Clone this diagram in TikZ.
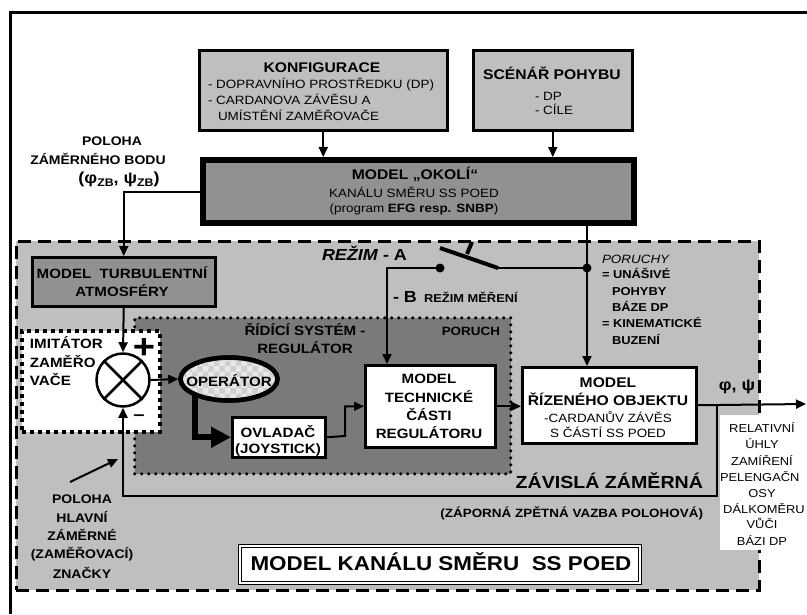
\documentclass[tikz,border=0pt]{standalone}
\usepackage{fontspec}
\setmainfont[FakeStretch=1.12]{Liberation Sans}
\usetikzlibrary{arrows.meta,patterns,shapes.geometric}
\definecolor{lg}{gray}{0.75}
\definecolor{mg}{gray}{0.57}
\definecolor{dg}{gray}{0.48}
\begin{document}
\begin{tikzpicture}[x=1pt,y=-1pt,
 tx/.style={inner sep=0pt, outer sep=0pt, anchor=base},
 tb/.style={tx, font=\fontsize{#1}{#1}\selectfont\bfseries},
 tr/.style={tx, font=\fontsize{#1}{#1}\selectfont},
 ti/.style={tx, font=\fontsize{#1}{#1}\selectfont\itshape},
 box/.style={draw, line width=2.5pt, inner sep=0pt, anchor=north west},
 arr/.style={line width=2pt, -{Triangle[length=10pt,width=9pt]}},
 ln/.style={line width=2pt},
]
\useasboundingbox (0,0) rectangle (807,614);
% outer frame
\draw[line width=3pt] (10.5,614) -- (10.5,12) -- (807,12);
% dashed region
\node[draw, fill=lg, line width=2.5pt, dash pattern=on 13pt off 7pt, anchor=north west,
  minimum width=743pt, minimum height=349pt, inner sep=0pt] (reg) at (15,240) {};
\fill[white] (720,415) rectangle (807,550);
% regulator region
\node[draw, fill=dg, line width=3.5pt, dash pattern=on 0pt off 7pt, line cap=round, anchor=north west,
  minimum width=376pt, minimum height=156pt, inner sep=0pt] (rs) at (133,316) {};
% imitator box
\node[draw, fill=white, line width=4pt, dash pattern=on 4pt off 4pt, anchor=north west,
  minimum width=138pt, minimum height=101pt, inner sep=0pt] (imi) at (20,329) {};
% top boxes
\node[box, fill=lg, minimum width=248pt, minimum height=80pt] (konf) at (198,49) {};
\node[box, fill=lg, minimum width=159pt, minimum height=80pt] (scen) at (472,49) {};
\node[box, fill=mg, line width=6pt, minimum width=431pt, minimum height=63pt] (okoli) at (200,157) {};
\node[box, fill=mg, minimum width=183pt, minimum height=49pt] (turb) at (31,256) {};
% connectors top
\draw[arr] (konf.south) -- (konf.south |- okoli.north);
\draw[arr] (scen.south) -- (scen.south |- okoli.north);
\draw[arr] (okoli.west) -| (turb.north);
% summing junction
\node[circle, draw, line width=2.5pt, fill=white, minimum size=53pt, inner sep=0pt] (sum) at (123,380) {};
\draw[line width=2.5pt] (sum.north west) -- (sum.south east) (sum.north east) -- (sum.south west);
\draw[arr] (turb.south) -- (sum.north);
% inner boxes
\node[box, fill=white, minimum width=93pt, minimum height=40pt] (ovl) at (231,416) {};
\node[box, fill=white, minimum width=130pt, minimum height=82pt] (tech) at (364,364) {};
\node[box, fill=white, minimum width=174pt, minimum height=76pt] (obj) at (521,366) {};
% thick arrow operator -> ovladac
\coordinate (opb) at (195,392);
\draw[line width=6pt, -{Triangle[length=20pt,width=20pt]}] (opb) |- (ovl.west);
% operator
\node[ellipse, draw, line width=4.5pt, fill=gray!18, minimum width=97pt, minimum height=43pt, inner sep=0pt,
  postaction={pattern=checkerboard, pattern color=gray!38}] (oper) at (229,379) {};
\draw[line width=4.5pt] (oper.center) ellipse (48.5pt and 21.5pt);
\draw[arr] (sum.east) -- (oper.west);
\draw[arr] (ovl.east) -- (345,436) |- (tech.west);
\draw[arr] (tech.east) -- (tech.east -| obj.west);
\coordinate (out) at (806,404);
\draw[arr] (obj.east) -- (out);
\coordinate (fb) at (717,404);
\draw[arr] (fb) -- (717,496) -| (sum.south);
% switch
\coordinate (sw) at (587,268);
\coordinate (sa) at (440,268);
\coordinate (sb) at (387,268);
\draw[ln] (okoli.south -| sw) -- (sw);
\draw[arr] (sw) -- (sw |- obj.north);
\draw[ln] (sw) -- (498,268);
\draw[line width=4pt] (440,248) -- (498,268);
\draw[line width=4pt] (467,254) -- (472,242);
\draw[arr] (sa) -- (sb) -- (sb |- tech.north);
\fill (sa) circle (4.5pt);
\fill (sw) circle (4.5pt);
% label arrow
\coordinate (pa) at (70,482);
\coordinate (pb) at (118,459);
\draw[arr] (pa) -- (pb);
% model kanalu box
\node[draw, double, double distance=2pt, line width=1pt, fill=white, anchor=north west,
  minimum width=400pt, minimum height=37pt, inner sep=0pt] (mk) at (239,545) {};
% ---------- texts
\node[tb=14] (t1) at (322,72) {KONFIGURACE};
\node[tr=12, anchor=base west] (t2) at (208,88) {- DOPRAVNÍHO PROSTŘEDKU (DP)};
\node[tr=12, anchor=base west] (t3) at (208,104) {- CARDANOVA ZÁVĚSU A};
\node[tr=12, anchor=base west] (t4) at (218,120) {UMÍSTĚNÍ ZAMĚŘOVAČE};
\node[tb=14] (t5) at (552,79) {SCÉNÁŘ POHYBU};
\node[tr=12, anchor=base west] (t6) at (535,100) {- DP};
\node[tr=12, anchor=base west] (t7) at (535,114) {- CÍLE};
\node[tb=14] (t8) at (415,179) {MODEL „OKOLÍ“};
\node[tr=12] (t9) at (414,197) {KANÁLU SMĚRU SS POED};
\node[tr=12] (t10) at (414,212) {(program \textbf{EFG resp. SNBP})};
\node[tb=12.5] (t11) at (112,145) {POLOHA};
\node[tb=12.5] (t12) at (98,164) {ZÁMĚRNÉHO BODU};
\node[tb=16] (t13) at (119,183) {(φ\raisebox{-3pt}{\fontsize{11}{11}\selectfont ZB}, ψ\raisebox{-3pt}{\fontsize{11}{11}\selectfont ZB})};
\node[tb=16, anchor=base west] (t14) at (322,260) {\textit{REŽIM} - A};
\node[tb=16, anchor=base west] (t15) at (393,302) {- B};
\node[tb=11.5, anchor=base west] (t16) at (424,302) {REŽIM MĚŘENÍ};
\node[tb=13.5] (t17) at (122,278) {MODEL~~TURBULENTNÍ};
\node[tb=13.5] (t18) at (122,296) {ATMOSFÉRY};
\node[tb=13.5] (t19) at (305,335) {ŘÍDÍCÍ SYSTÉM -};
\node[tb=13.5] (t20) at (305,353) {REGULÁTOR};
\node[tb=12, anchor=base east] (t21) at (500,335) {PORUCH};
\node[tb=13.5, anchor=base west] (t22) at (30,348) {IMITÁTOR};
\node[tb=13.5, anchor=base west] (t23) at (30,367) {ZAMĚŘO};
\node[tb=13.5, anchor=base west] (t24) at (30,385) {VAČE};
\node[tb=34] (t25) at (144,358) {+};
\node[tb=18] (t26) at (139,420.5) {–};
\node[tb=13.5] (t27) at (229,386) {OPERÁTOR};
\node[tb=13.5] (t28) at (278,437) {OVLADAČ};
\node[tb=13.5] (t29) at (278,453) {(JOYSTICK)};
\node[tb=13.5] (t30) at (429,383) {MODEL};
\node[tb=13.5] (t31) at (429,402) {TECHNICKÉ};
\node[tb=13.5] (t32) at (429,420) {ČÁSTI};
\node[tb=13.5] (t33) at (429,438) {REGULÁTORU};
\node[tb=14] (t34) at (608,387) {MODEL};
\node[tb=14] (t35) at (608,405) {ŘÍZENÉHO OBJEKTU};
\node[tr=12] (t36) at (608,422) {-CARDANŮV ZÁVĚS};
\node[tr=12] (t37) at (608,437) {S ČÁSTÍ SS POED};
\node[tb=16] (t38) at (737,390) {φ, ψ};
\node[ti=12, anchor=base west] (t39) at (602,263) {PORUCHY};
\node[tb=11.5, anchor=base west] (t40) at (602,278) {= UNÁŠIVÉ};
\node[tb=11.5, anchor=base west] (t41) at (612,295) {POHYBY};
\node[tb=11.5, anchor=base west] (t42) at (612,311) {BÁZE DP};
\node[tb=11.5, anchor=base west] (t43) at (602,327) {= KINEMATICKÉ};
\node[tb=11.5, anchor=base west] (t44) at (612,344) {BUZENÍ};
\node[tb=17.5, anchor=base east] (t45) at (703,488) {ZÁVISLÁ ZÁMĚRNÁ};
\node[tb=12, anchor=base east] (t46) at (703,517) {(ZÁPORNÁ ZPĚTNÁ VAZBA POLOHOVÁ)};
\node[tb=20] (t47) at (441,570) {MODEL KANÁLU SMĚRU~~SS POED};
\node[tb=12.5] (t48) at (82,503) {POLOHA};
\node[tb=12.5] (t49) at (82,522) {HLAVNÍ};
\node[tb=12.5] (t50) at (82,540) {ZÁMĚRNÉ};
\node[tb=12.5] (t51) at (82,558) {(ZAMĚŘOVACÍ)};
\node[tb=12.5] (t52) at (82,578) {ZNAČKY};
\node[tr=11.5] (t53) at (762,432) {RELATIVNÍ};
\node[tr=11.5] (t54) at (762,448) {ÚHLY};
\node[tr=11.5] (t55) at (762,465) {ZAMÍŘENÍ};
\node[tr=11.5, anchor=base west] (t56) at (720,481) {PELENGAČN};
\node[tr=11.5] (t57) at (762,497) {OSY};
\node[tr=11.5] (t58) at (764,513) {DÁLKOMĚRU};
\node[tr=11.5] (t59) at (762,528) {VŮČI};
\node[tr=11.5] (t60) at (762,545) {BÁZI DP};
\end{tikzpicture}
\end{document}
